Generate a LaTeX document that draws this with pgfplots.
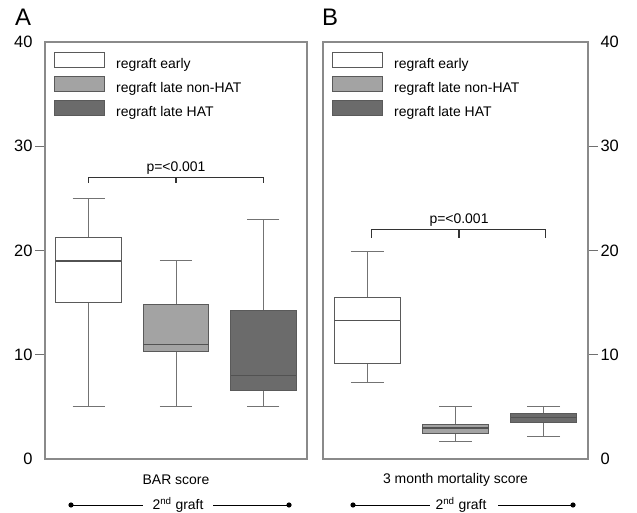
\documentclass[border=0pt]{standalone}
\usepackage{pgfplots}
\pgfplotsset{compat=1.18}
\usepgfplotslibrary{statistics}
\usepackage{fontspec}
\setmainfont{Liberation Sans}
\definecolor{lgray}{HTML}{A3A3A3}
\definecolor{dgray}{HTML}{6B6B6B}
\definecolor{edge}{HTML}{5A5A5A}
\definecolor{axgray}{HTML}{8A8A8A}
\definecolor{tickgray}{HTML}{707070}
\definecolor{brk}{HTML}{333333}
\newcommand{\txt}{\fontsize{14}{16}\selectfont}
\pgfplotsset{
 panel/.style={
  scale only axis, height=417bp,
  xmin=0.5, xmax=3.5, ymin=0, ymax=40,
  xtick=\empty,
  ytick={0,10,...,40},
  major tick length=0pt,
  axis line style={draw=axgray, line width=1.3pt},
  tick label style={font=\fontsize{16.5}{18}\selectfont},
  /pgf/number format/assume math mode=true,
  xlabel style={font=\txt, at={(axis description cs:0.5,0)}, anchor=center, yshift=-21bp},
  legend style={draw=none, fill=none, at={(axis description cs:0,1)}, anchor=north west,
    xshift=9bp, yshift=-10bp, font=\txt, row sep=4.5bp, column sep=11bp, inner sep=0pt,
    nodes={inner sep=0pt, text height=10bp, text depth=3bp}},
  legend cell align=left,
  legend image code/.code={\draw[#1] (0bp,-2.5bp) rectangle (50bp,12.5bp);},
  boxplot/draw direction=y,
  boxplot/every whisker/.style={draw=black!55, line width=1pt},
  boxplot/every median/.style={draw=black!68, line width=1.3pt},
  boxplot/every box/.style={draw=edge, line width=1pt},
 },
 bp/.style={boxplot prepared={#1, box extend=0.75, whisker extend=0.37}, solid},
}
\begin{document}
\begin{tikzpicture}
\useasboundingbox (0,0) rectangle (637bp,513bp);
% Panel A
\begin{axis}[panel, name=pa, width=262bp, at={(45bp,54bp)}, anchor=south west, xlabel={BAR score},
  ytick pos=left, yticklabel style={xshift=-9bp}]
\addlegendimage{fill=white, draw=edge, line width=1pt}
\addlegendentry{regraft early}
\addlegendimage{fill=lgray, draw=edge, line width=1pt}
\addlegendentry{regraft late non-HAT}
\addlegendimage{fill=dgray, draw=edge, line width=1pt}
\addlegendentry{regraft late HAT}
\addplot[bp={draw position=1, lower whisker=5, lower quartile=15, median=19, upper quartile=21.2, upper whisker=25}, fill=white, draw=edge] coordinates {};
\addplot[bp={draw position=2, lower whisker=5, lower quartile=10.3, median=11, upper quartile=14.8, upper whisker=19}, fill=lgray, draw=edge] coordinates {};
\addplot[bp={draw position=3, lower whisker=5, lower quartile=6.55, median=8, upper quartile=14.2, upper whisker=23}, fill=dgray, draw=edge] coordinates {};
\draw[brk, line width=1.2pt] (axis cs:1,26.5) -- (axis cs:1,27) -- (axis cs:3,27) -- (axis cs:3,26.5);
\draw[brk, line width=1.2pt] (axis cs:2,27) -- (axis cs:2,26.5);
\node[font=\txt, anchor=south, inner sep=3bp] at (axis cs:2,27) {p=<0.001};
\end{axis}
% Panel B
\begin{axis}[panel, name=pb, width=265bp, at={(323bp,54bp)}, anchor=south west, xlabel={3 month mortality score},
  ytick pos=right, yticklabel pos=right, yticklabel style={xshift=9bp}]
\addlegendimage{fill=white, draw=edge, line width=1pt}
\addlegendentry{regraft early}
\addlegendimage{fill=lgray, draw=edge, line width=1pt}
\addlegendentry{regraft late non-HAT}
\addlegendimage{fill=dgray, draw=edge, line width=1pt}
\addlegendentry{regraft late HAT}
\addplot[bp={draw position=1, lower whisker=7.3, lower quartile=9.2, median=13.3, upper quartile=15.5, upper whisker=19.9}, fill=white, draw=edge] coordinates {};
\addplot[bp={draw position=2, lower whisker=1.7, lower quartile=2.45, median=2.97, upper quartile=3.35, upper whisker=5}, fill=lgray, draw=edge] coordinates {};
\addplot[bp={draw position=3, lower whisker=2.2, lower quartile=3.54, median=4, upper quartile=4.37, upper whisker=5}, fill=dgray, draw=edge] coordinates {};
\draw[brk, line width=1.2pt] (axis cs:1.05,21.2) -- (axis cs:1.05,22) -- (axis cs:3.02,22) -- (axis cs:3.02,21.2);
\draw[brk, line width=1.2pt] (axis cs:2.04,22) -- (axis cs:2.04,21.2);
\node[font=\txt, anchor=south, inner sep=3bp] at (axis cs:2.04,22) {p=<0.001};
\end{axis}
% y tick marks (outside, at 10/20/30 only)
\foreach \k in {1,2,3} {
  \draw[tickgray, line width=1.3pt] (44bp,{(54+104.25*\k)*1bp}) -- (35bp,{(54+104.25*\k)*1bp});
  \draw[tickgray, line width=1.3pt] (589bp,{(54+104.25*\k)*1bp}) -- (598bp,{(54+104.25*\k)*1bp});
}
% panel letters
\node[font=\fontsize{24}{26}\selectfont] at (23bp,496bp) {A};
\node[font=\fontsize{24}{26}\selectfont] at (330bp,496bp) {B};
% 2nd graft rows
\draw[black, line width=0.8pt] (71bp,8bp) -- (143bp,8bp) (213bp,8bp) -- (289bp,8bp);
\fill (71bp,8bp) circle (2.6bp) (289bp,8bp) circle (2.6bp);
\node[font=\txt] at (178bp,8bp) {2\textsuperscript{nd} graft};
\draw[black, line width=0.8pt] (353bp,8bp) -- (430bp,8bp) (498bp,8bp) -- (573bp,8bp);
\fill (353bp,8bp) circle (2.6bp) (573bp,8bp) circle (2.6bp);
\node[font=\txt] at (461bp,8bp) {2\textsuperscript{nd} graft};
\end{tikzpicture}
\end{document}
